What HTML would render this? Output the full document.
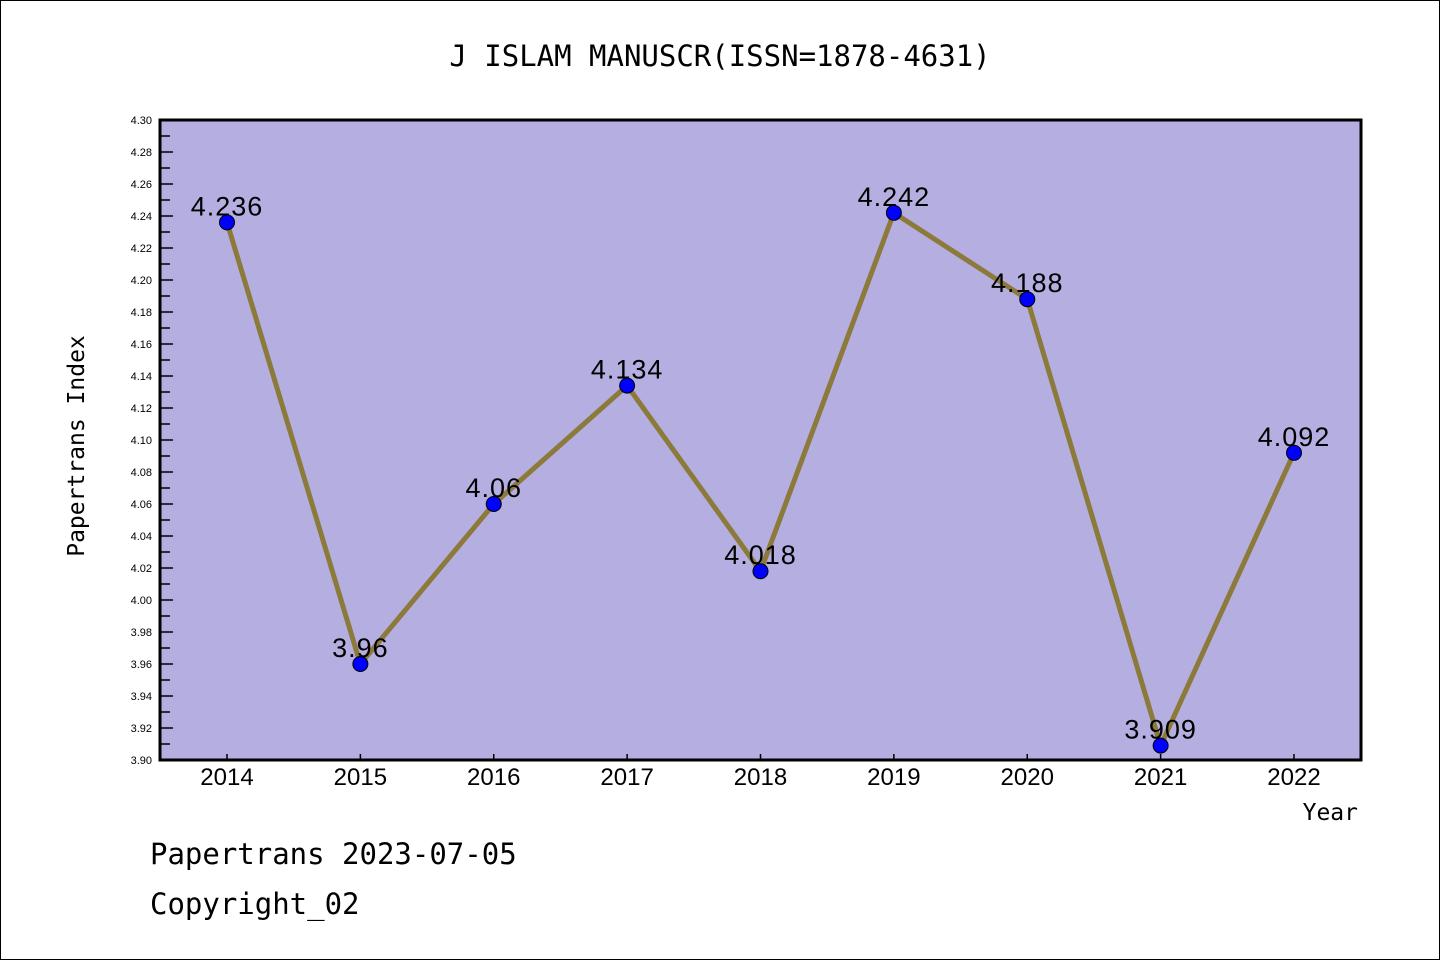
<!DOCTYPE html>
<html><head><meta charset="utf-8"><style>
html,body{margin:0;padding:0;background:#fff}
svg{display:block}
</style></head><body>
<svg id="chart" width="1440" height="960" xmlns="http://www.w3.org/2000/svg" font-family="'DejaVu Sans Mono','Liberation Mono',monospace">
<rect x="0.5" y="0.5" width="1439" height="959" fill="#fff" stroke="#000"/>
<text x="720" y="66" text-anchor="middle" font-size="29">J ISLAM MANUSCR(ISSN=1878-4631)</text>
<rect x="160" y="120" width="1201" height="640" fill="#b5aee1"/>
<g id="yticks"></g><g id="xticks"></g>
<g id="series"></g>
<rect x="160" y="120" width="1201" height="640" fill="none" stroke="#000" stroke-width="3"/>
<text transform="translate(84,446) rotate(-90)" text-anchor="middle" font-size="23">Papertrans Index</text>
<text x="1358" y="820" text-anchor="end" font-size="23">Year</text>
<text x="150" y="864" font-size="29">Papertrans 2023-07-05</text>
<text x="150" y="914" font-size="29">Copyright_02</text>
</svg>
<script>
const years = [2014,2015,2016,2017,2018,2019,2020,2021,2022];
const values = [4.236,3.96,4.06,4.134,4.018,4.242,4.188,3.909,4.092];
const valueLabels = ["4.236","3.96","4.06","4.134","4.018","4.242","4.188","3.909","4.092"];
const yMin = 3.90, yMax = 4.30;
const NS = "http://www.w3.org/2000/svg";
const x = i => 227 + i * (1294 - 227) / (years.length - 1);
const y = v => 760 - (v - yMin) / (yMax - yMin) * 640;
function mk(tag, attrs, parent){const e=document.createElementNS(NS,tag);for(const k in attrs)e.setAttribute(k,attrs[k]);parent.appendChild(e);return e;}
const yt=document.getElementById('yticks');
for(let k=0;k<=40;k++){
  const v=yMin+k*0.01, yy=y(v), major=k%2===0;
  const t=mk('line',{x1:160,x2:160+(major?13:10),y1:yy,y2:yy,stroke:'#000','stroke-width':1.5},yt);
  
  
  if(major){
    const l=mk('text',{x:152,y:yy+4,'text-anchor':'end','font-size':11,'font-family':'Liberation Sans, sans-serif'},yt);
    
    
    l.textContent=v.toFixed(2);
  }
}
const xt=document.getElementById('xticks');
years.forEach((yr,i)=>{
  const t=mk('line',{x1:x(i),x2:x(i),y1:760,y2:754,stroke:'#000','stroke-width':1.5},xt);
  
  
  const l=mk('text',{x:x(i),y:785,'text-anchor':'middle','font-size':24,'font-family':'Liberation Sans, sans-serif'},xt);
  
  
  l.textContent=yr;
});
const s=document.getElementById('series');
const line=mk('polyline',{points:values.map((v,i)=>x(i)+','+y(v)).join(' '),fill:'none',stroke:'#8b7a3a','stroke-width':5},s);


values.forEach((v,i)=>{
  const c=mk('circle',{cx:x(i),cy:y(v),r:7.5,fill:'#0000ff',stroke:'#000','stroke-width':1},s);
  
  
  const l=mk('text',{x:x(i),y:y(v)-7,'text-anchor':'middle','font-size':27,'font-family':'Liberation Sans, sans-serif','letter-spacing':'1'},s);
  
  
  l.textContent=valueLabels[i];
});
</script>
</body></html>
